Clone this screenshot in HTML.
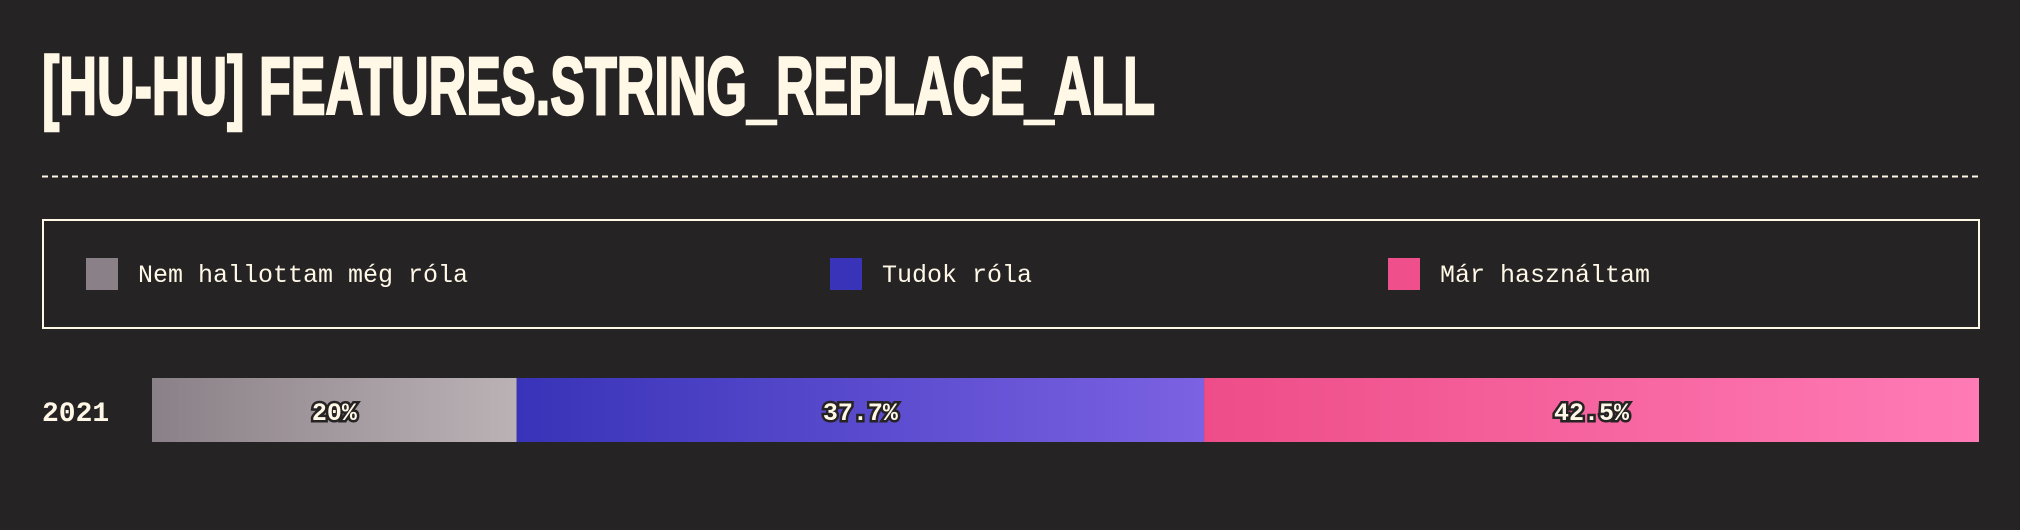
<!DOCTYPE html>
<html><head><meta charset="utf-8"><style>
html,body{margin:0;padding:0;background:#262324;}
svg{display:block;}
</style></head><body>
<svg width="2020" height="530" viewBox="0 0 2020 530">
<defs>
<linearGradient id="g0" x1="0" x2="1"><stop offset="0" stop-color="#8a8087"/><stop offset="1" stop-color="#bbb2b6"/></linearGradient>
<linearGradient id="g1" x1="0" x2="1"><stop offset="0" stop-color="#3833b8"/><stop offset="1" stop-color="#7b62e2"/></linearGradient>
<linearGradient id="g2" x1="0" x2="1"><stop offset="0" stop-color="#ee4d88"/><stop offset="1" stop-color="#ff7bb6"/></linearGradient>
</defs>
<text x="42" y="114" fill="#fff8e7" stroke="#fff8e7" stroke-width="2.5" font-family="'Liberation Sans',sans-serif" font-weight="bold" font-size="82" textLength="1113" lengthAdjust="spacingAndGlyphs">[HU-HU] FEATURES.STRING_REPLACE_ALL</text>
<line x1="42" y1="176.5" x2="1980" y2="176.5" stroke="#fff8e7" stroke-width="2" stroke-dasharray="6,4"/>
<rect x="43" y="220" width="1936" height="108" fill="none" stroke="#fff8e7" stroke-width="2"/>
<g id="legend"></g>
<text x="42" y="421" fill="#fff8e7" font-family="'Liberation Mono',monospace" font-weight="bold" font-size="28">2021</text>
<g id="bars"></g>
</svg>
<script>
const categories = ["Nem hallottam még róla", "Tudok róla", "Már használtam"];
const values = [20, 37.7, 42.5];
const valueLabels = ["20%", "37.7%", "42.5%"];
const swatchColors = ["#8a8087", "#3833b8", "#ef4f8a"];
const NS = "http://www.w3.org/2000/svg";
const legendX = [86, 830, 1388];
const lg = document.getElementById('legend');
categories.forEach((c, i) => {
  const r = document.createElementNS(NS, 'rect');
  
  
  r.setAttribute('x', legendX[i]); r.setAttribute('y', 258);
  r.setAttribute('width', 32); r.setAttribute('height', 32);
  r.setAttribute('fill', swatchColors[i]);
  lg.appendChild(r);
  const t = document.createElementNS(NS, 'text');
  
  
  t.setAttribute('x', legendX[i] + 52); t.setAttribute('y', 282);
  t.setAttribute('fill', '#fff8e7');
  t.setAttribute('font-family', "'Liberation Mono',monospace");
  t.setAttribute('font-size', '25');
  t.textContent = c;
  lg.appendChild(t);
});
const x0 = 152, x1 = 1979;
const total = values.reduce((a, b) => a + b, 0);
const xs = v => x0 + (v / total) * (x1 - x0);
const bg = document.getElementById('bars');
let acc = 0;
values.forEach((v, i) => {
  const a = xs(acc), b = xs(acc + v);
  const r = document.createElementNS(NS, 'rect');
  
  
  r.setAttribute('x', a); r.setAttribute('y', 378);
  r.setAttribute('width', b - a); r.setAttribute('height', 64);
  r.setAttribute('fill', 'url(#g' + i + ')');
  bg.appendChild(r);
  const t = document.createElementNS(NS, 'text');
  
  
  t.setAttribute('x', (a + b) / 2); t.setAttribute('y', 420);
  t.setAttribute('text-anchor', 'middle');
  t.setAttribute('fill', '#fff8e7');
  t.setAttribute('stroke', '#262324'); t.setAttribute('stroke-width', '5');
  t.setAttribute('paint-order', 'stroke');
  t.setAttribute('font-family', "'Liberation Mono',monospace");
  t.setAttribute('font-weight', 'bold');
  t.setAttribute('font-size', '25');
  t.textContent = valueLabels[i];
  bg.appendChild(t);
  acc += v;
});
</script>
</body></html>
